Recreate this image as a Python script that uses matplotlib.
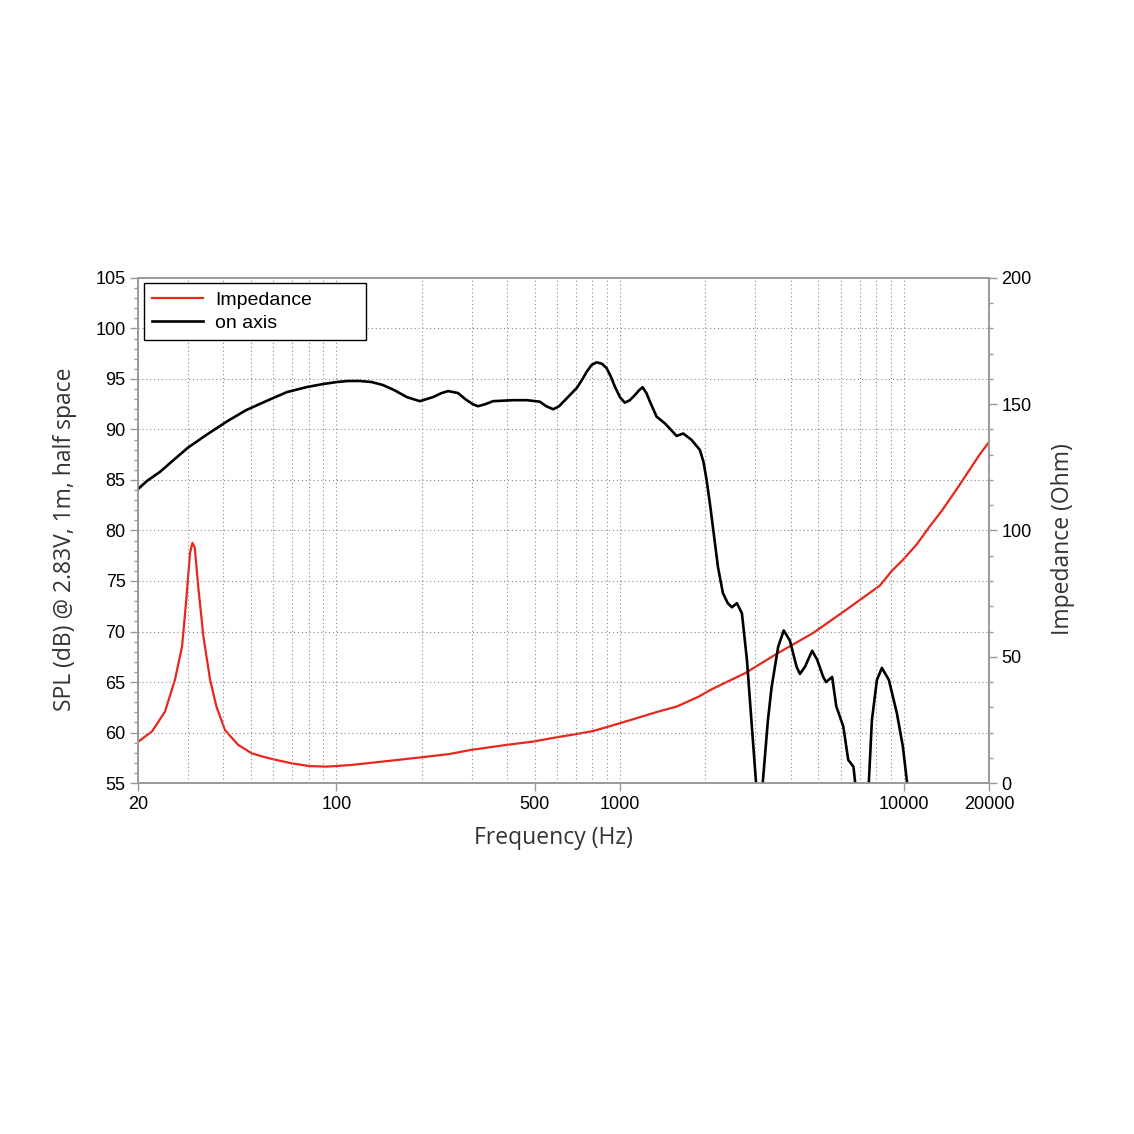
import matplotlib
matplotlib.use("Agg")
import matplotlib.pyplot as plt
from matplotlib.ticker import FixedLocator, MultipleLocator

# ── Data ──────────────────────────────────────────────────────────────────────
# on-axis SPL, dB  (points below 55 dB fall outside the plotted range)
spl_freq = [20, 21.5, 23.9, 26.5, 30, 35, 41.2, 48, 53.5, 59.8, 67, 78.8, 90,
            100.6, 110, 121, 133, 146, 160, 177.5, 197, 219, 235, 248, 269, 285,
            303, 316, 335, 357, 420, 470, 522, 550, 582, 610, 640, 704, 735, 763,
            795, 828, 865, 898, 930, 960, 1000, 1041, 1084, 1129, 1170, 1202,
            1240, 1276, 1347, 1441, 1510, 1584, 1672, 1790, 1914, 1970, 2021,
            2080, 2128, 2216, 2307, 2400, 2482, 2585, 2692, 2804, 2920, 3016,
            3100, 3192, 3324, 3426, 3614, 3780, 3974, 4196, 4311, 4490, 4760,
            4960, 5208, 5330, 5600, 5790, 6130, 6380, 6660, 6740, 7100, 7546,
            7732, 8053, 8386, 8876, 9472, 9944, 10272, 10600]
spl_db = [84.1, 84.9, 85.8, 86.9, 88.2, 89.5, 90.8, 91.9, 92.5, 93.1, 93.7, 94.2,
          94.5, 94.7, 94.8, 94.8, 94.7, 94.4, 93.9, 93.2, 92.8, 93.2, 93.6, 93.8,
          93.6, 93.0, 92.5, 92.3, 92.5, 92.8, 92.9, 92.9, 92.75, 92.3, 92.0,
          92.3, 92.9, 94.1, 94.9, 95.7, 96.4, 96.65, 96.5, 96.06, 95.2, 94.24,
          93.2, 92.65, 92.9, 93.4, 93.9, 94.18, 93.6, 92.75, 91.27, 90.6, 90.0,
          89.36, 89.6, 88.96, 87.97, 86.8, 85.0, 82.5, 80.3, 76.4, 73.8, 72.8,
          72.4, 72.8, 71.8, 67.2, 60.5, 55.2, 48.0, 55.2, 61.2, 64.5, 68.5, 70.1,
          69.1, 66.5, 65.8, 66.5, 68.1, 67.2, 65.5, 65.0, 65.5, 62.6, 60.6, 57.3,
          56.6, 55.2, 47.0, 55.2, 61.2, 65.2, 66.4, 65.2, 61.9, 58.6, 55.2, 50.0]

# impedance, Ohm
imp_freq = [20, 20.05, 22.4, 24.9, 27.0, 28.6, 29.6, 30.5, 31.1, 31.7, 32.6,
            34.0, 35.9, 37.8, 40.5, 45.1, 50.3, 55.3, 60, 69.6, 80.6, 92.6,
            111.8, 146, 200, 251, 298, 398, 494, 597, 704, 804, 908, 1117, 1347,
            1587, 1894, 2112, 2763, 3612, 4798, 6296, 8252, 9073, 9968, 11110,
            12380, 13616, 15378, 17128, 18580, 20000]
imp_ohm = [16.3, 16.4, 20.4, 28.3, 40.9, 54.1, 72.6, 91.1, 95.1, 93.3, 77.9,
           58.1, 40.9, 30.3, 21.0, 15.1, 11.8, 10.4, 9.4, 7.8, 6.7, 6.5, 7.1,
           8.5, 10.2, 11.5, 13.1, 15.1, 16.4, 18.1, 19.4, 20.6, 22.3, 25.3, 28.1,
           30.3, 34.2, 37.2, 43.5, 51.5, 59.4, 68.7, 78.2, 83.9, 88.5, 94.4,
           101.7, 107.7, 116.3, 124.2, 130.2, 135.0]

x_ticks = [20, 100, 500, 1000, 10000, 20000]
x_grid = ([30, 40, 50, 60, 70, 80, 90, 100] + [200, 300, 400, 500, 600, 700, 800, 900, 1000]
          + [2000, 3000, 4000, 5000, 6000, 7000, 8000, 9000, 10000])

# ── Style ─────────────────────────────────────────────────────────────────────
SPINE = "#9a9a9a"
GRID = "#888888"
TICK_FONT = dict(family="Liberation Sans", size=13)
LABEL_FONT = dict(family="Open Sans", size=16.5, color="#333333")

fig = plt.figure(figsize=(11.34, 11.34), dpi=100)
ax = fig.add_axes([0.1217, 0.3095, 0.8721 - 0.1217, 0.7549 - 0.3095])
ax2 = ax.twinx()

ax.set_xscale("log")
ax.set_xlim(20, 20000)
ax.set_ylim(55, 105)
ax2.set_ylim(0, 200)

# dotted grid
for f in x_grid:
    ax.axvline(f, color=GRID, linestyle=(0, (1, 2.5)), linewidth=0.8, zorder=0)
for d in range(60, 105, 5):
    ax.axhline(d, color=GRID, linestyle=(0, (1, 2.5)), linewidth=0.8, zorder=0)

# curves
ax2.plot(imp_freq, imp_ohm, color="#e8261c", linewidth=1.6, label="Impedance")
ax.plot(spl_freq, spl_db, color="black", linewidth=1.9, label="on axis")
ax.set_zorder(ax2.get_zorder() + 1)
ax.patch.set_visible(False)

# ticks
ax.xaxis.set_major_locator(FixedLocator(x_ticks))
ax.xaxis.set_minor_locator(FixedLocator([]))
ax.set_xticklabels([str(t) for t in x_ticks], **TICK_FONT)
ax.set_yticks(range(55, 106, 5))
ax.set_yticklabels([str(t) for t in range(55, 106, 5)], **TICK_FONT)
ax.yaxis.set_minor_locator(MultipleLocator(1))
ax2.set_yticks(range(0, 201, 50))
ax2.set_yticklabels([str(t) for t in range(0, 201, 50)], **TICK_FONT)
ax2.yaxis.set_minor_locator(MultipleLocator(10))

for a in (ax, ax2):
    a.tick_params(which="major", length=6, width=1, color=SPINE, pad=3)
    a.tick_params(which="minor", length=3, width=1, color=SPINE)
    for s in a.spines.values():
        s.set_color(SPINE)
        s.set_linewidth(1.2)

ax.set_xlabel("Frequency (Hz)", labelpad=10, **LABEL_FONT)
ax.set_ylabel("SPL (dB) @ 2.83V, 1m, half space", labelpad=13, **LABEL_FONT)
ax2.set_ylabel("Impedance (Ohm)", labelpad=14, **LABEL_FONT)
ax.xaxis.label.set_x(0.488)
ax.yaxis.label.set_y(0.482)
ax2.yaxis.label.set_y(0.483)

# legend box spans the upper-left corner
h1, l1 = ax2.get_legend_handles_labels()
h2, l2 = ax.get_legend_handles_labels()
leg = ax.legend(h1 + h2, l1 + l2, loc="upper left",
                bbox_to_anchor=(0.007, 0.883, 0.261, 0.107), mode="expand",
                prop=dict(family="Liberation Sans", size=14), fancybox=False,
                framealpha=1, edgecolor="black", borderpad=0.42, handlelength=2.6,
                handletextpad=0.65, labelspacing=0.3, borderaxespad=0.0)
leg.get_frame().set_linewidth(1.0)
leg.set_zorder(10)

fig.savefig("out.png", dpi=100)
